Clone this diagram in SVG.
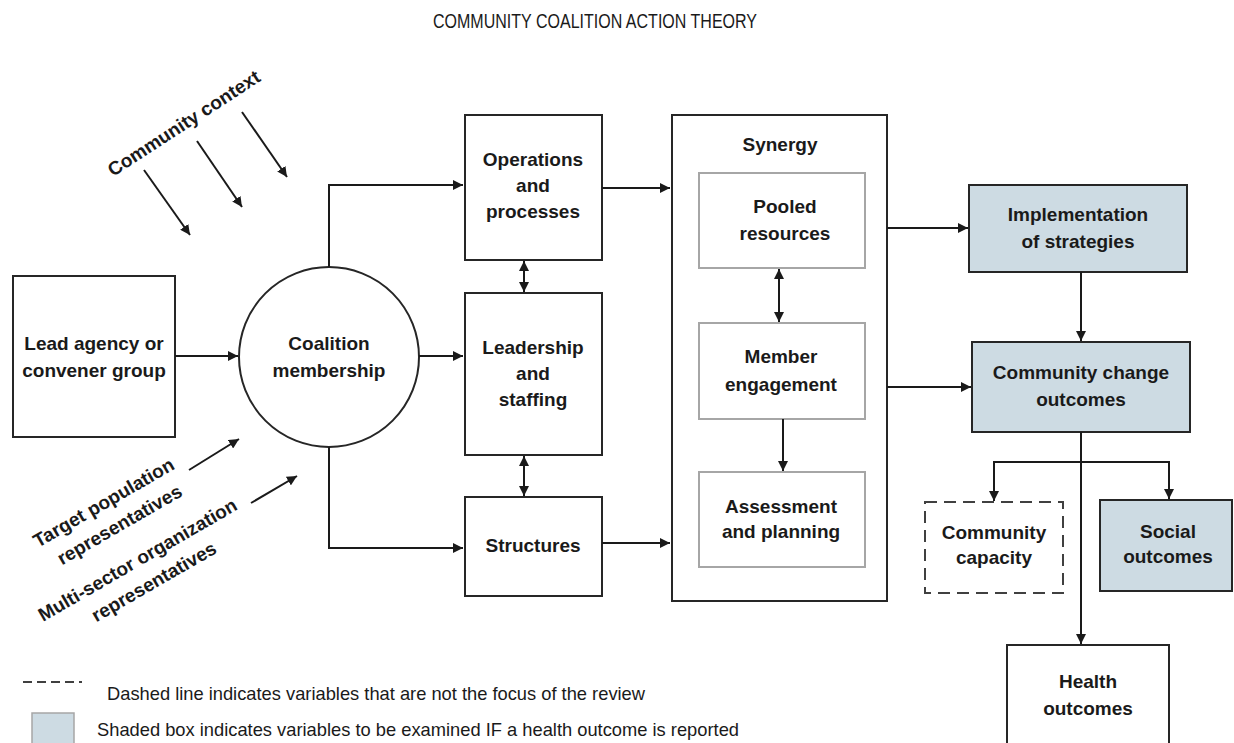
<svg xmlns="http://www.w3.org/2000/svg" width="1234" height="743" viewBox="0 0 1234 743">
<style>
.box{fill:#fff;stroke:#262626;stroke-width:2}
.inner{fill:#fff;stroke:#a6a6a6;stroke-width:2}
.shaded{fill:#cddbe3;stroke:#262626;stroke-width:2}
.dashed{fill:#fff;stroke:#404040;stroke-width:2;stroke-dasharray:12 7}
.lbl{font-family:"Liberation Sans",Arial,sans-serif;font-weight:bold;font-size:19px;fill:#1a1a1a;text-anchor:middle}
.side{font-family:"Liberation Sans",Arial,sans-serif;font-weight:bold;font-size:19px;fill:#1a1a1a}
.leg{font-family:"Liberation Sans",Arial,sans-serif;font-size:18.5px;fill:#1a1a1a}
.c{fill:none;stroke:#1a1a1a;stroke-width:2}
</style>
<defs>
<marker id="ah" viewBox="0 0 10 10" refX="10" refY="5" markerWidth="5" markerHeight="5" orient="auto-start-reverse" markerUnits="strokeWidth">
<path d="M0,0 L10,5 L0,10 z" fill="#1a1a1a"/>
</marker>
</defs>
<rect width="1234" height="743" fill="#fff"/>
<text x="433" y="28" font-family="Liberation Sans,Arial,sans-serif" font-size="21" fill="#1a1a1a" textLength="324" lengthAdjust="spacingAndGlyphs">COMMUNITY COALITION ACTION THEORY</text>

<g id="community-context">
<text class="side" transform="translate(113,177) rotate(-33)">Community context</text>
</g>
<g id="target-population">
<text class="side" transform="translate(38,548) rotate(-30)"><tspan x="0" y="0">Target population</tspan><tspan x="12" y="27">representatives</tspan></text>
</g>
<g id="multi-sector">
<text class="side" transform="translate(43,622) rotate(-30)"><tspan x="0" y="0">Multi-sector organization</tspan><tspan x="46" y="27">representatives</tspan></text>
</g>

<g id="lead-agency">
<rect class="box" x="13" y="276" width="162" height="161"/>
<text class="lbl"><tspan x="94" y="350">Lead agency or</tspan><tspan x="94" y="377">convener group</tspan></text>
</g>
<g id="coalition-membership">
<circle class="box" cx="329" cy="357" r="90"/>
<text class="lbl"><tspan x="329" y="350">Coalition</tspan><tspan x="329" y="377">membership</tspan></text>
</g>
<g id="operations">
<rect class="box" x="465" y="115" width="137" height="145"/>
<text class="lbl"><tspan x="533" y="166">Operations</tspan><tspan x="533" y="192">and</tspan><tspan x="533" y="218">processes</tspan></text>
</g>
<g id="leadership">
<rect class="box" x="465" y="293" width="137" height="162"/>
<text class="lbl"><tspan x="533" y="354">Leadership</tspan><tspan x="533" y="380">and</tspan><tspan x="533" y="406">staffing</tspan></text>
</g>
<g id="structures">
<rect class="box" x="465" y="497" width="137" height="99"/>
<text class="lbl" x="533" y="552">Structures</text>
</g>
<g id="synergy">
<rect class="box" x="672" y="115" width="215" height="486"/>
<text class="lbl" x="780" y="151">Synergy</text>
</g>
<g id="pooled-resources">
<rect class="inner" x="699" y="173" width="166" height="95"/>
<text class="lbl"><tspan x="785" y="213">Pooled</tspan><tspan x="785" y="240">resources</tspan></text>
</g>
<g id="member-engagement">
<rect class="inner" x="699" y="323" width="166" height="96"/>
<text class="lbl"><tspan x="781" y="363">Member</tspan><tspan x="781" y="391">engagement</tspan></text>
</g>
<g id="assessment-planning">
<rect class="inner" x="699" y="472" width="166" height="95"/>
<text class="lbl"><tspan x="781" y="513">Assessment</tspan><tspan x="781" y="538">and planning</tspan></text>
</g>
<g id="implementation">
<rect class="shaded" x="969" y="185" width="218" height="87"/>
<text class="lbl"><tspan x="1078" y="221">Implementation</tspan><tspan x="1078" y="248">of strategies</tspan></text>
</g>
<g id="community-change">
<rect class="shaded" x="972" y="342" width="218" height="90"/>
<text class="lbl"><tspan x="1081" y="379">Community change</tspan><tspan x="1081" y="406">outcomes</tspan></text>
</g>
<g id="community-capacity">
<rect class="dashed" x="925" y="502" width="138" height="91"/>
<text class="lbl"><tspan x="994" y="539">Community</tspan><tspan x="994" y="564">capacity</tspan></text>
</g>
<g id="social-outcomes">
<rect class="shaded" x="1100" y="500" width="132" height="91"/>
<text class="lbl"><tspan x="1168" y="538">Social</tspan><tspan x="1168" y="563">outcomes</tspan></text>
</g>
<g id="health-outcomes">
<rect class="box" x="1007" y="645" width="162" height="105"/>
<text class="lbl"><tspan x="1088" y="688">Health</tspan><tspan x="1088" y="715">outcomes</tspan></text>
</g>

<g id="connectors">
<line class="c" x1="144" y1="170" x2="190" y2="235" marker-end="url(#ah)"/>
<line class="c" x1="197" y1="141" x2="242" y2="207" marker-end="url(#ah)"/>
<line class="c" x1="242" y1="112" x2="287" y2="177" marker-end="url(#ah)"/>
<line class="c" x1="189" y1="470" x2="239" y2="439" marker-end="url(#ah)"/>
<line class="c" x1="251" y1="503" x2="297" y2="476" marker-end="url(#ah)"/>
<line class="c" x1="175" y1="356" x2="238" y2="356" marker-end="url(#ah)"/>
<polyline class="c" points="329,267 329,185 463,185" marker-end="url(#ah)"/>
<line class="c" x1="419" y1="356" x2="463" y2="356" marker-end="url(#ah)"/>
<polyline class="c" points="329,447 329,548 463,548" marker-end="url(#ah)"/>
<line class="c" x1="524" y1="261" x2="524" y2="292" marker-start="url(#ah)" marker-end="url(#ah)"/>
<line class="c" x1="524" y1="456" x2="524" y2="496" marker-start="url(#ah)" marker-end="url(#ah)"/>
<line class="c" x1="602" y1="188" x2="670" y2="188" marker-end="url(#ah)"/>
<line class="c" x1="602" y1="543" x2="670" y2="543" marker-end="url(#ah)"/>
<line class="c" x1="779" y1="269" x2="779" y2="322" marker-start="url(#ah)" marker-end="url(#ah)"/>
<line class="c" x1="783" y1="419" x2="783" y2="471" marker-end="url(#ah)"/>
<line class="c" x1="887" y1="228" x2="968" y2="228" marker-end="url(#ah)"/>
<line class="c" x1="887" y1="387" x2="971" y2="387" marker-end="url(#ah)"/>
<line class="c" x1="1081" y1="272" x2="1081" y2="341" marker-end="url(#ah)"/>
<line class="c" x1="1081" y1="432" x2="1081" y2="644" marker-end="url(#ah)"/>
<polyline class="c" points="994,501 994,462 1169,462 1169,499" marker-start="url(#ah)" marker-end="url(#ah)"/>
</g>

<g id="legend">
<line x1="23" y1="682" x2="82" y2="682" stroke="#404040" stroke-width="2" stroke-dasharray="9 5"/>
<text class="leg" x="107" y="700" textLength="538" lengthAdjust="spacingAndGlyphs">Dashed line indicates variables that are not the focus of the review</text>
<rect x="32" y="713" width="42" height="34" fill="#cddbe3" stroke="#a6a6a6" stroke-width="1.5"/>
<text class="leg" x="97" y="736" textLength="642" lengthAdjust="spacingAndGlyphs">Shaded box indicates variables to be examined IF a health outcome is reported</text>
</g>
</svg>
